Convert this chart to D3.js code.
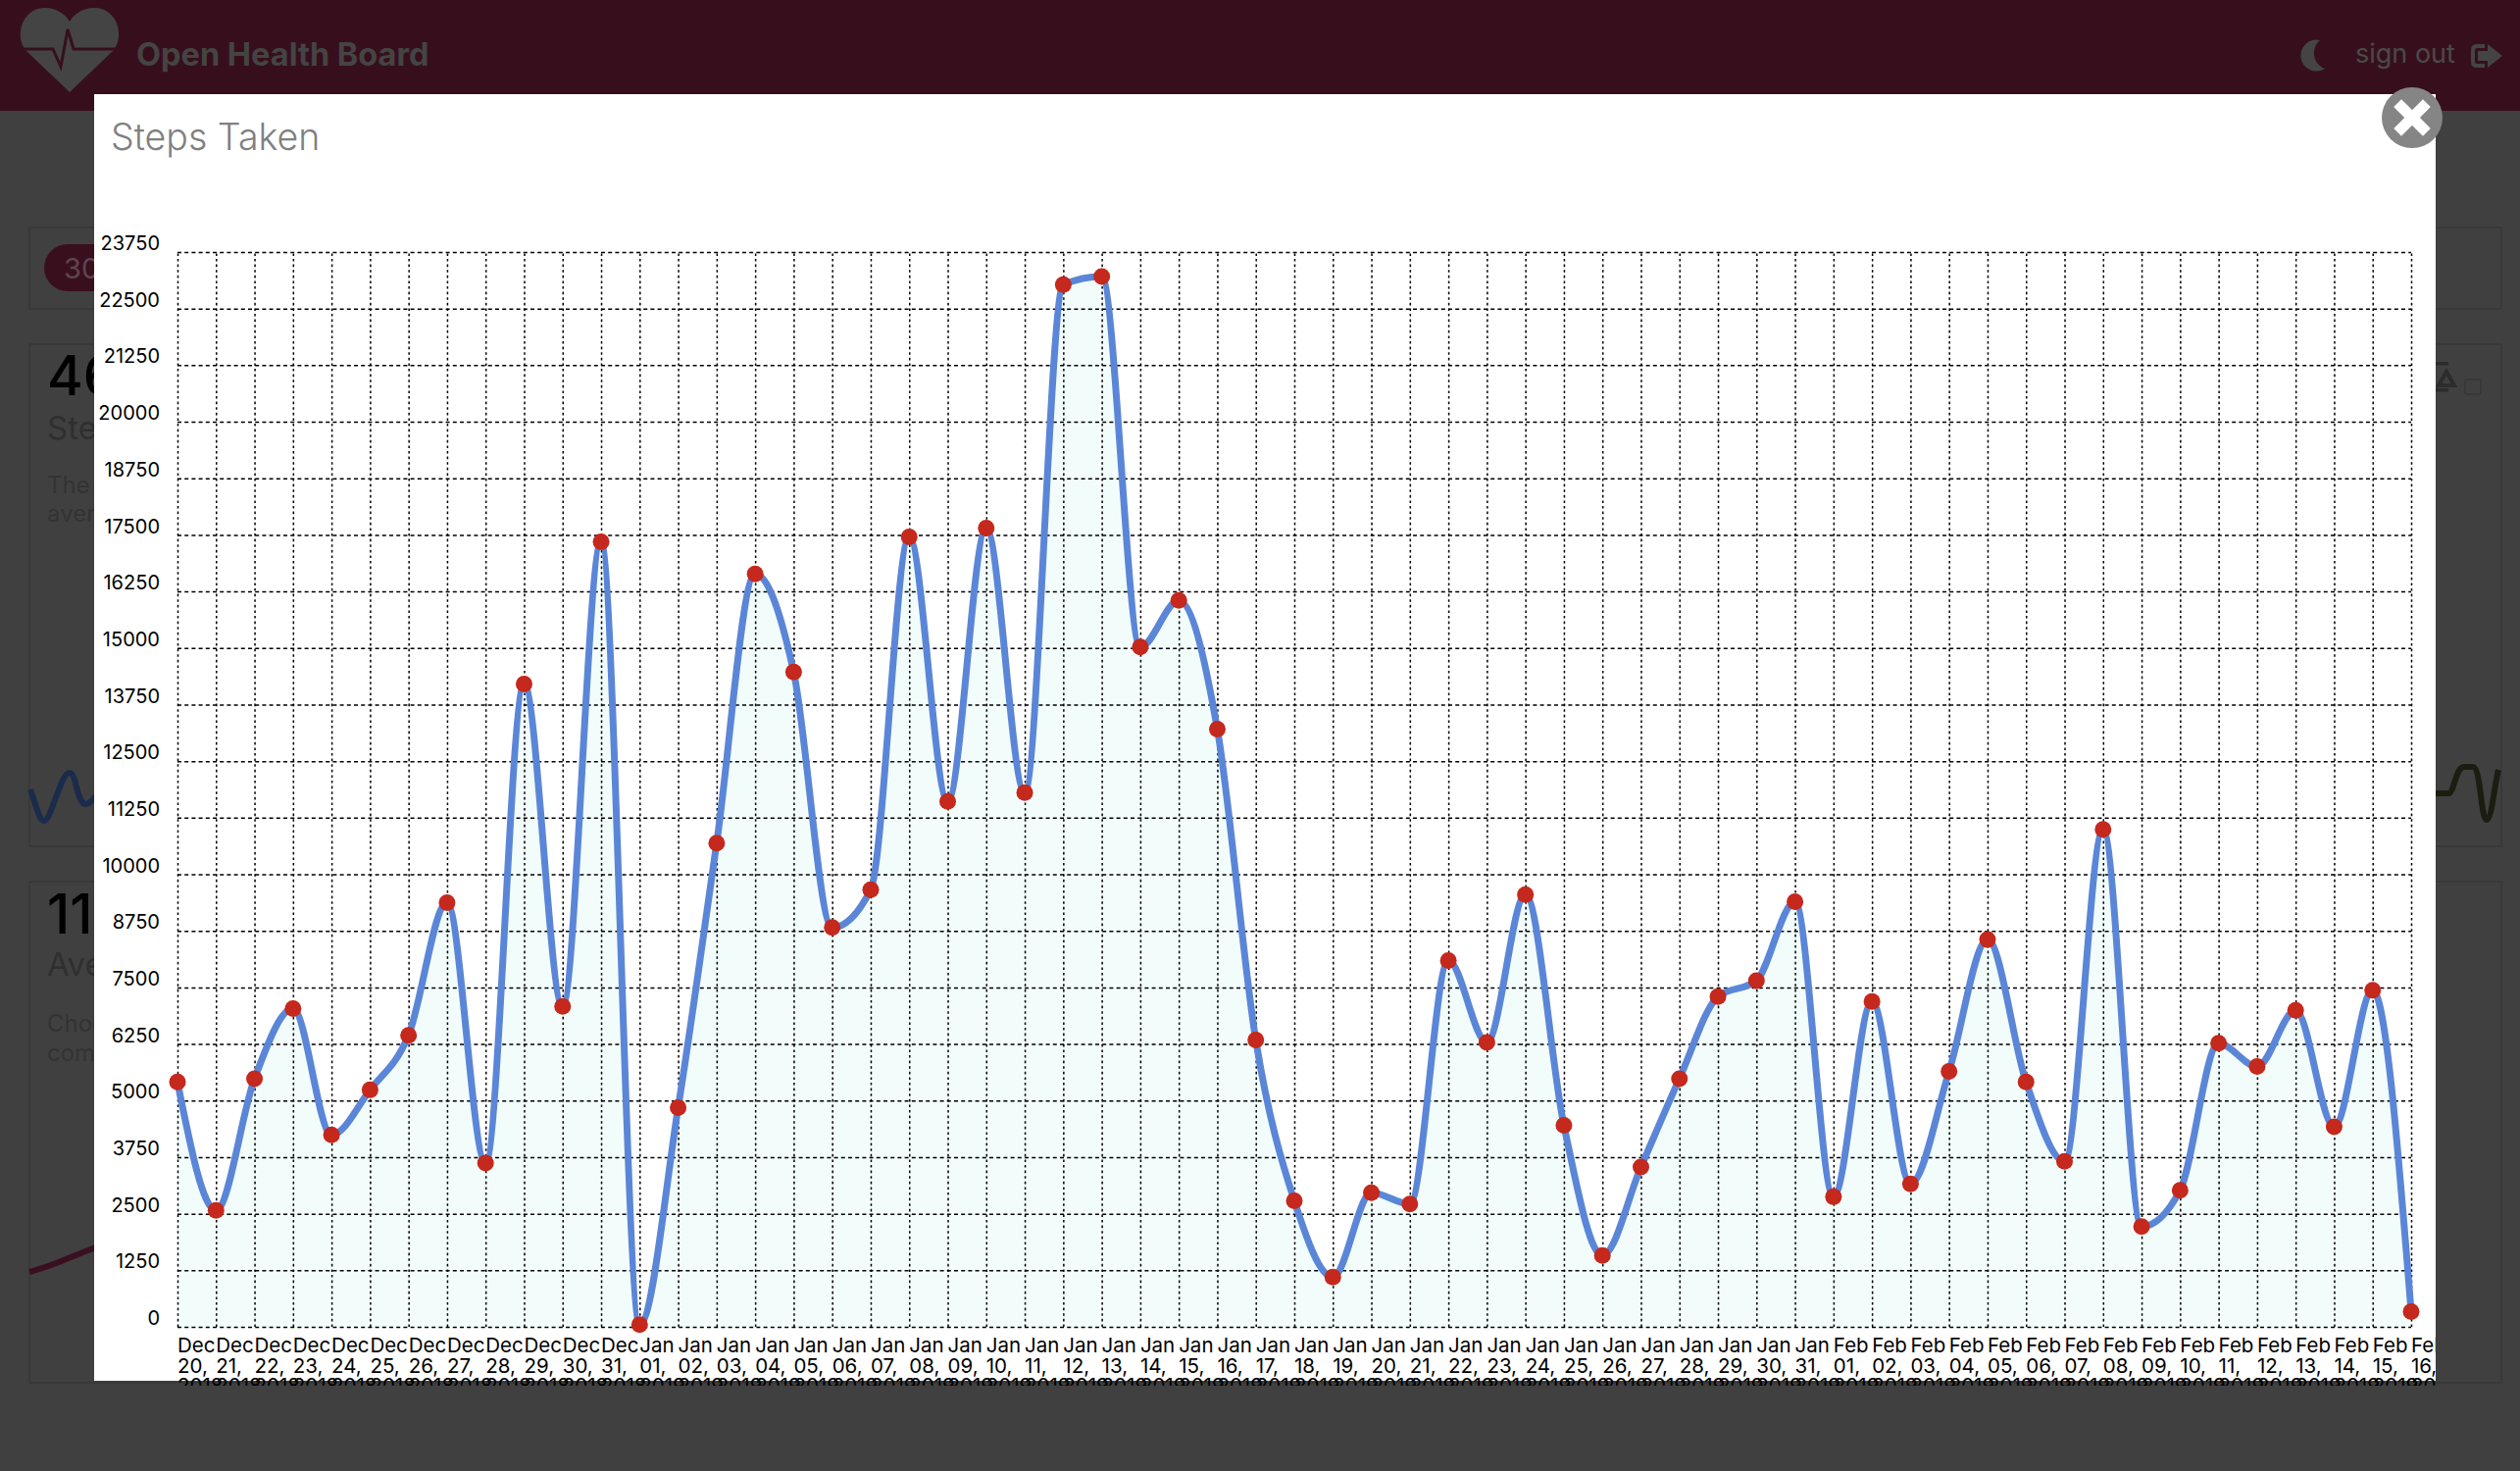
<!DOCTYPE html>
<html>
<head>
<meta charset="utf-8">
<title>Steps Taken</title>
<script src="https://cdn.jsdelivr.net/npm/d3@7"></script>
<style>
  html, body { margin: 0; padding: 0; background: #404040; }
  svg { display: block; font-family: Inter, "Noto Sans", sans-serif; }
</style>
</head>
<body>
<svg id="page" width="2570" height="1500"></svg>
<script>
"use strict";

// values
const days = [
  "Dec 20, 2018", "Dec 21, 2018", "Dec 22, 2018", "Dec 23, 2018", "Dec 24, 2018", "Dec 25, 2018",
  "Dec 26, 2018", "Dec 27, 2018", "Dec 28, 2018", "Dec 29, 2018", "Dec 30, 2018", "Dec 31, 2018",
  "Jan 01, 2019", "Jan 02, 2019", "Jan 03, 2019", "Jan 04, 2019", "Jan 05, 2019", "Jan 06, 2019",
  "Jan 07, 2019", "Jan 08, 2019", "Jan 09, 2019", "Jan 10, 2019", "Jan 11, 2019", "Jan 12, 2019",
  "Jan 13, 2019", "Jan 14, 2019", "Jan 15, 2019", "Jan 16, 2019", "Jan 17, 2019", "Jan 18, 2019",
  "Jan 19, 2019", "Jan 20, 2019", "Jan 21, 2019", "Jan 22, 2019", "Jan 23, 2019", "Jan 24, 2019",
  "Jan 25, 2019", "Jan 26, 2019", "Jan 27, 2019", "Jan 28, 2019", "Jan 29, 2019", "Jan 30, 2019",
  "Jan 31, 2019", "Feb 01, 2019", "Feb 02, 2019", "Feb 03, 2019", "Feb 04, 2019", "Feb 05, 2019",
  "Feb 06, 2019", "Feb 07, 2019", "Feb 08, 2019", "Feb 09, 2019", "Feb 10, 2019", "Feb 11, 2019",
  "Feb 12, 2019", "Feb 13, 2019", "Feb 14, 2019", "Feb 15, 2019", "Feb 16, 2019"
];
const steps = [
  5413, 2572, 5484, 7030, 4241, 5236, 6443, 9374, 3620, 14205, 7083, 17348,
  50, 4845, 10688, 16638, 14471, 8823, 9658, 17455, 11612, 17650, 11807, 23031,
  23209, 15021, 16051, 13210, 6337, 2785, 1098, 2962, 2714, 8095, 6284, 9552,
  4454, 1577, 3531, 5484, 7296, 7651, 9392, 2874, 7189, 3158, 5644, 8557,
  5413, 3655, 10990, 2216, 3016, 6266, 5751, 6994, 4419, 7438, 334
];
const yTicks = [
  0, 1250, 2500, 3750, 5000, 6250, 7500, 8750, 10000, 11250, 12500, 13750,
  15000, 16250, 17500, 18750, 20000, 21250, 22500, 23750
];
const rows = days.map((d, i) => ({ day: d, value: steps[i] }));

const svg = d3.select("#page");

function drawBackdrop() {
  // dimmed dashboard behind the modal
  svg.append("rect").attr("width", 2570).attr("height", 1500).attr("fill", "#404040");
  svg.append("rect").attr("width", 2570).attr("height", 113).attr("fill", "#370f1c");

  // heart logo
  svg.append("path")
    .attr("d", "M71 94 L27 52 C14 38 22 8 46 8 C58 8 67 15 71 22 C75 15 84 8 96 8 C120 8 128 38 115 52 Z")
    .attr("fill", "#444444");
  svg.append("path")
    .attr("d", "M22 50 L54 50 L62 68 L69 30 L75 50 L120 50")
    .attr("fill", "none").attr("stroke", "#370f1c").attr("stroke-width", 3);
  svg.append("text").text("Open Health Board")
    .attr("x", 139).attr("y", 67).attr("font-size", 32.5).attr("font-weight", 700).attr("fill", "#444444");

  // moon + sign out
  svg.append("path")
    .attr("d", "M2366 41 A16 16 0 1 0 2371 70 A17 17 0 0 1 2366 41 Z")
    .attr("fill", "#444444");
  svg.append("text").text("sign out")
    .attr("x", 2402).attr("y", 64).attr("font-size", 27).attr("fill", "#4a4a4a");
  svg.append("path")
    .attr("d", "M2534 47 L2526 47 Q2522 47 2522 51 L2522 63 Q2522 67 2526 67 L2534 67")
    .attr("fill", "none").attr("stroke", "#444444").attr("stroke-width", 4);
  svg.append("path")
    .attr("d", "M2527 52 L2537 52 L2537 45 L2552 57 L2537 69 L2537 62 L2527 62 Z")
    .attr("fill", "#444444");

  // cards
  const cards = [[30, 232, 2521, 83], [30, 351, 2521, 512], [30, 899, 2521, 511]];
  cards.forEach((c) => {
    svg.append("rect")
      .attr("x", c[0]).attr("y", c[1]).attr("width", c[2]).attr("height", c[3])
      .attr("fill", "none").attr("stroke", "#393939").attr("stroke-width", 2);
  });
  svg.append("rect").attr("x", 45).attr("y", 249).attr("width", 120).attr("height", 48).attr("rx", 24)
    .attr("fill", "#3a0f1d");
  svg.append("text").text("30").attr("x", 65).attr("y", 284).attr("font-size", 29).attr("fill", "#5d4650");

  const labels = [
    ["46", 403, 56, "#000000", 500], ["Steps", 448, 33, "#2f2f2f", 400], ["The", 503, 24, "#333333", 400], ["average", 532, 24, "#333333", 400],
    ["11", 952, 56, "#000000", 500], ["Average", 995, 33, "#2f2f2f", 400], ["Choose", 1052, 24, "#333333", 400], ["common", 1082, 24, "#333333", 400]
  ];
  labels.forEach((l) => {
    svg.append("text").text(l[0]).attr("x", 48).attr("y", l[1])
      .attr("font-size", l[2]).attr("fill", l[3]).attr("font-weight", l[4]);
  });

  // little sparklines peeking out either side
  svg.append("path")
    .attr("d", "M31 805 C38 825 40 837 45 837 C52 837 62 788 71 788 C78 788 78 818 87 820 C92 820 94 815 98 812")
    .attr("fill", "none").attr("stroke", "#1b2b4b").attr("stroke-width", 6);
  svg.append("path")
    .attr("d", "M30 1297 C55 1291 75 1280 98 1272")
    .attr("fill", "none").attr("stroke", "#3a0f22").attr("stroke-width", 6);
  svg.append("path")
    .attr("d", "M2484 809 L2497 809 C2503 809 2504 782 2513 782 L2522 782 C2530 782 2530 836 2536 836 C2541 836 2544 800 2548 785")
    .attr("fill", "none").attr("stroke", "#1a1d10").attr("stroke-width", 6);

  // balance icon + checkbox
  svg.append("path")
    .attr("d", "M2495 379 L2503 393 L2487 393 Z")
    .attr("fill", "none").attr("stroke", "#2c2c2c").attr("stroke-width", 4);
  svg.append("rect").attr("x", 2484).attr("y", 396).attr("width", 13).attr("height", 3.5).attr("fill", "#2c2c2c");
  svg.append("rect").attr("x", 2484).attr("y", 369).attr("width", 13).attr("height", 3.5).attr("fill", "#2c2c2c");
  svg.append("rect").attr("x", 2514).attr("y", 387).attr("width", 16).attr("height", 15).attr("rx", 2)
    .attr("fill", "none").attr("stroke", "#363636").attr("stroke-width", 1.5);
}

function drawChart() {
  svg.append("rect").attr("x", 96).attr("y", 96).attr("width", 2388).attr("height", 1312).attr("fill", "#ffffff");
  svg.append("text").text("Steps Taken")
    .attr("x", 113).attr("y", 153).attr("font-size", 37.5).attr("font-weight", 300).attr("fill", "#808080");

  const x = d3.scalePoint().domain(days).range([181, 2459]);
  const y = d3.scaleLinear().domain([0, 23750]).range([1353, 257]);

  svg.append("clipPath").attr("id", "labelClip").append("rect")
    .attr("x", 96).attr("y", 96).attr("width", 2388).attr("height", 1317);

  const area = d3.area()
    .x((d) => x(d.day))
    .y0(y(0))
    .y1((d) => y(d.value))
    .curve(d3.curveMonotoneX);
  const line = d3.line()
    .x((d) => x(d.day))
    .y((d) => y(d.value))
    .curve(d3.curveMonotoneX);

  svg.append("path").datum(rows).attr("d", area).attr("fill", "#f2fdfb");

  // grid comes from the axes' own ticks
  const yAxis = svg.append("g")
    .attr("transform", "translate(181,0)")
    .call(d3.axisLeft(y).tickValues(yTicks).tickSize(-(2459 - 181)).tickPadding(18).tickFormat((d) => String(d)));
  yAxis.select(".domain").remove();
  yAxis.selectAll("line").attr("stroke", "#000000").attr("stroke-width", 1.5).attr("stroke-dasharray", "4 3.2");
  yAxis.selectAll("text")
    .attr("dy", "-0.12em")
    .attr("font-size", 20).attr("font-family", "Inter").attr("fill", "#000000");

  const xAxis = svg.append("g")
    .attr("transform", "translate(0,1353)")
    .call(d3.axisBottom(x).tickSize(-(1353 - 257)).tickFormat(""));
  xAxis.select(".domain").remove();
  xAxis.selectAll("line").attr("stroke", "#000000").attr("stroke-width", 1.5).attr("stroke-dasharray", "2.6 3");

  // the labels wrap onto three lines and run off the modal
  const xLabels = svg.append("g").attr("clip-path", "url(#labelClip)")
    .selectAll("text").data(days).join("text")
    .attr("x", (d) => x(d))
    .attr("y", 1379)
    .attr("font-size", 20.5)
    .attr("fill", "#000000");
  xLabels.selectAll("tspan")
    .data((d) => d.split(" "))
    .join("tspan")
    .attr("x", function () { return d3.select(this.parentNode).attr("x"); })
    .attr("dy", (d, i) => (i === 0 ? 0 : 20.5))
    .text((d) => d);

  svg.append("path").datum(rows).attr("d", line)
    .attr("fill", "none").attr("stroke", "#5b86d8").attr("stroke-width", 7);

  svg.append("g").selectAll("circle").data(rows).join("circle")
    .attr("cx", (d) => x(d.day))
    .attr("cy", (d) => y(d.value))
    .attr("r", 8.5)
    .attr("fill", "#c5281c");

  // close button
  svg.append("circle").attr("cx", 2460).attr("cy", 120).attr("r", 31).attr("fill", "#858585");
  svg.append("path").attr("d", "M2449 109 L2471 131 M2471 109 L2449 131")
    .attr("stroke", "#ffffff").attr("stroke-width", 11).attr("stroke-linecap", "square");
}

drawBackdrop();
drawChart();
</script>
</body>
</html>
